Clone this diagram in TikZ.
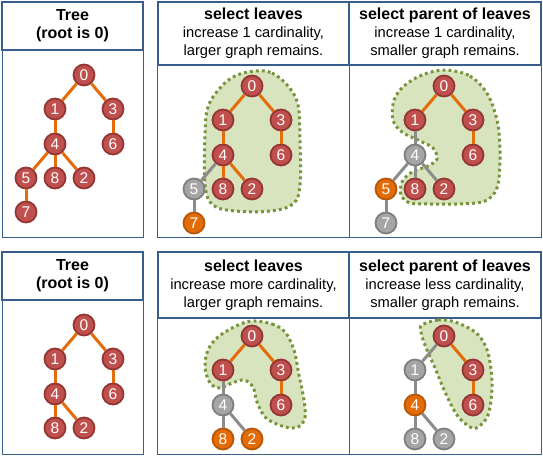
\documentclass[tikz,border=0pt]{standalone}
\usepackage{fontspec}
\setmainfont{Liberation Sans}
\usepackage{tikz}
\definecolor{redfill}{HTML}{C0504D}
\definecolor{redline}{HTML}{943634}
\definecolor{grayfill}{HTML}{A5A5A5}
\definecolor{grayline}{HTML}{7F7F7F}
\definecolor{orfill}{HTML}{E36C09}
\definecolor{orline}{HTML}{B65708}
\definecolor{oredge}{HTML}{E46C0A}
\definecolor{grayedge}{HTML}{8C8C8C}
\definecolor{blobfill}{HTML}{D7E4BD}
\definecolor{blobline}{HTML}{77933C}
\definecolor{boxline}{HTML}{3A5E8C}
\tikzset{
	vtx/.style={circle,minimum size=21pt,inner sep=0pt,line width=1.8pt,text=white,font=\fontsize{15.5}{15.5}\selectfont},
	vr/.style={vtx,draw=redline,fill=redfill},
	vg/.style={vtx,draw=grayline,fill=grayfill},
	vo/.style={vtx,draw=orline,fill=orfill},
	eo/.style={draw=oredge,line width=3pt},
	eg/.style={draw=grayedge,line width=3pt},
	blob/.style={draw=blobline,fill=blobfill,line width=3pt,dash pattern=on 2.8pt off 3.2pt},
	panel/.style={draw=boxline,line width=1pt},
	head/.style={draw=boxline,line width=2pt,fill=white,align=center,inner sep=0pt,font=\fontsize{14.7}{18}\selectfont},
}
\newcommand{\ttl}[1]{{\fontsize{16}{20}\selectfont\bfseries #1}}
\begin{document}
\begin{tikzpicture}[x=1pt,y=-1pt]
\useasboundingbox (0,0) rectangle (543,455);

% panel frames
\draw[panel] (2,2) rectangle (143,237);
\draw[panel] (157,2) rectangle (541,237);
\draw[panel] (349,65) -- (349,237);
\draw[panel] (2,252) rectangle (143,454);
\draw[panel] (157,252) rectangle (541,454);
\draw[panel] (349,318) -- (349,454);

% headers
\node[head,minimum width=141pt,minimum height=48pt] (tlhead) at (72.5,26) {\ttl{Tree}\\\ttl{(root is 0)}};
\node[head,minimum width=191pt,minimum height=63pt] (tmhead) at (253.5,33.5) {\ttl{select leaves}\\increase 1 cardinality,\\larger graph remains.};
\node[head,minimum width=192pt,minimum height=63pt] (trhead) at (445,33.5) {\ttl{select parent of leaves}\\increase 1 cardinality,\\smaller graph remains.};
\node[head,minimum width=141pt,minimum height=48pt] (blhead) at (72.5,276) {\ttl{Tree}\\\ttl{(root is 0)}};
\node[head,minimum width=191pt,minimum height=66pt] (bmhead) at (253.5,285) {\ttl{select leaves}\\increase more cardinality,\\larger graph remains.};
\node[head,minimum width=192pt,minimum height=66pt] (brhead) at (445,285) {\ttl{select parent of leaves}\\increase less cardinality,\\smaller graph remains.};

% remaining graphs
\draw[blob] plot[smooth cycle,tension=0.6] coordinates {(255,71) (272,73) (288,86) (298,105) (300,140) (300,185) (293,204) (270,211) (235,211) (213,205) (205,185) (205,135) (208,107) (220,88) (235,76)};
\draw[blob] plot[smooth cycle,tension=0.55] coordinates {(445,70) (470,76) (488,95) (498,125) (500,160) (497,188) (485,201) (460,204) (430,204) (410,203) (401,195) (402,182) (412,172) (428,166) (437,159) (433,148) (420,141) (402,132) (393,120) (394,100) (404,86) (422,75)};
\draw[blob] plot[smooth cycle,tension=0.55] coordinates {(252,321) (272,324) (285,332) (294,350) (299,375) (304,400) (305,418) (298,427) (285,427) (266,418) (257,402) (253,387) (244,380) (232,383) (220,388) (210,383) (205,367) (208,350) (218,337) (236,326)};
\draw[blob] plot[smooth cycle,tension=0.6] coordinates {(422,325) (438,320) (455,322) (475,332) (485,345) (490,362) (492,388) (488,415) (478,427) (470,427) (457,415) (445,392) (435,368) (425,345) (421,332)};

% top left tree
\begin{scope}[shift={(84,75)}]
\foreach \n/\x/\y/\s in {0/0/0/vr,1/-29/34/vr,3/29/34/vr,4/-29/69/vr,6/29/69/vr,5/-58/103/vr,8/-29/103/vr,2/0/103/vr,7/-58/137/vr}
	\node[\s] (tl\n) at (\x,\y) {\n};
\foreach \a/\b/\s in {0/1/eo,0/3/eo,1/4/eo,3/6/eo,4/5/eo,4/8/eo,4/2/eo,5/7/eo}
	\draw[\s] (tl\a) -- (tl\b);
\end{scope}

% top middle tree
\begin{scope}[shift={(252,86)}]
\foreach \n/\x/\y/\s in {0/0/0/vr,1/-29/34/vr,3/29/34/vr,4/-29/69/vr,6/29/69/vr,5/-58/103/vg,8/-29/103/vr,2/0/103/vr,7/-58/137/vo}
	\node[\s] (tm\n) at (\x,\y) {\n};
\foreach \a/\b/\s in {0/1/eo,0/3/eo,1/4/eo,3/6/eo,4/5/eg,4/8/eo,4/2/eo,5/7/eg}
	\draw[\s] (tm\a) -- (tm\b);
\end{scope}

% top right tree
\begin{scope}[shift={(444,86)}]
\foreach \n/\x/\y/\s in {0/0/0/vr,1/-29/34/vr,3/29/34/vr,4/-29/69/vg,6/29/69/vr,5/-58/103/vo,8/-29/103/vr,2/0/103/vr,7/-58/137/vg}
	\node[\s] (tr\n) at (\x,\y) {\n};
\foreach \a/\b/\s in {0/1/eo,0/3/eo,1/4/eg,3/6/eo,4/5/eg,4/8/eg,4/2/eg,5/7/eg}
	\draw[\s] (tr\a) -- (tr\b);
\end{scope}

% bottom left tree
\begin{scope}[shift={(84,325)}]
\foreach \n/\x/\y/\s in {0/0/0/vr,1/-29/34/vr,3/29/34/vr,4/-29/69/vr,6/29/69/vr,8/-29/103/vr,2/0/103/vr}
	\node[\s] (bl\n) at (\x,\y) {\n};
\foreach \a/\b/\s in {0/1/eo,0/3/eo,1/4/eo,3/6/eo,4/8/eo,4/2/eo}
	\draw[\s] (bl\a) -- (bl\b);
\end{scope}

% bottom middle tree
\begin{scope}[shift={(252,336)}]
\foreach \n/\x/\y/\s in {0/0/0/vr,1/-29/34/vr,3/29/34/vr,4/-29/69/vg,6/29/69/vr,8/-29/103/vo,2/0/103/vo}
	\node[\s] (bm\n) at (\x,\y) {\n};
\foreach \a/\b/\s in {0/1/eo,0/3/eo,1/4/eg,3/6/eo,4/8/eg,4/2/eg}
	\draw[\s] (bm\a) -- (bm\b);
\end{scope}

% bottom right tree
\begin{scope}[shift={(444,336)}]
\foreach \n/\x/\y/\s in {0/0/0/vr,1/-29/34/vg,3/29/34/vr,4/-29/69/vo,6/29/69/vr,8/-29/103/vg,2/0/103/vg}
	\node[\s] (br\n) at (\x,\y) {\n};
\foreach \a/\b/\s in {0/1/eg,0/3/eo,1/4/eg,3/6/eo,4/8/eg,4/2/eg}
	\draw[\s] (br\a) -- (br\b);
\end{scope}

\end{tikzpicture}
\end{document}
